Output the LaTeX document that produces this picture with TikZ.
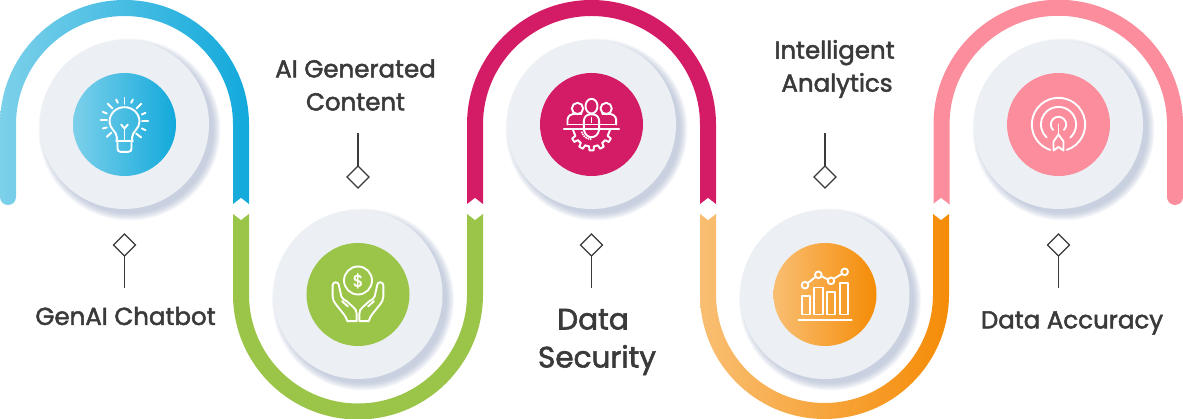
\documentclass[tikz,border=0pt]{standalone}
\usepackage{fontspec}
\setmainfont{Poppins}[RawFeature={embolden=2.0}]
\usetikzlibrary{shapes.geometric}
\definecolor{txt}{HTML}{3A3A3A}
\definecolor{disc}{HTML}{ECEFF3}
\definecolor{blueA}{HTML}{7CD0EA}
\definecolor{blueB}{HTML}{12A9DB}
\definecolor{grn}{HTML}{9AC548}
\definecolor{pnk}{HTML}{D41C66}
\definecolor{orgA}{HTML}{F9BE72}
\definecolor{orgB}{HTML}{F58C07}
\definecolor{cor}{HTML}{FB8D9C}
\definecolor{shd}{HTML}{8E9DBD}
\tikzset{
  outerdisc/.style={circle,fill=disc,inner sep=0pt,outer sep=0pt,minimum size=169pt},
  innerdisc/.style={circle,inner sep=0pt,outer sep=0pt,minimum size=103pt},
  marker/.style={diamond,draw=txt,fill=white,line width=1.3pt,inner sep=0pt,outer sep=0pt,minimum width=22pt,minimum height=22pt},
  stem/.style={draw=txt,line width=1.3pt},
  lab/.style={text=txt,font=\fontsize{24.5}{33}\selectfont,align=center,inner sep=0pt},
  biglab/.style={text=txt,font=\fontsize{29.5}{38}\selectfont,align=center,inner sep=0pt},
  ico/.style={draw=white,line width=1.9pt,line cap=round,line join=round},
  notch/.style={fill=white,draw=none},
}
\newcommand{\softshadow}[2]{%
  \foreach \r in {91,90,89,88,87,86,85,84}{
    \fill[shd,opacity=.08] (#1+5,#2-5) circle (\r pt);
  }}
\newcommand{\whitenotch}[1]{%
  \fill[notch] (#1-9,214) -- (#1,221) -- (#1+9,214) -- (#1+9,206) -- (#1,199) -- (#1-9,206) -- cycle;}
\begin{document}
\begin{tikzpicture}[x=1pt,y=1pt]
\useasboundingbox (0,0) rectangle (1183,419);
% ribbon segments
\path[left color=blueA,right color=blueB]
  (0,222) -- (0,294.5) arc[start angle=180,end angle=0,radius=124.5] -- (249,214) -- (233,214) -- (233,294.5)
  arc[start angle=0,end angle=180,radius=108.5] -- (16,222) arc[start angle=0,end angle=-180,radius=8] -- cycle;
\path[fill=grn]
  (233,206) -- (233,124.5) arc[start angle=180,end angle=360,radius=125] -- (483,206) -- (467,206) -- (467,124.5)
  arc[start angle=360,end angle=180,radius=109] -- (249,206) -- cycle;
\path[fill=pnk]
  (467,214) -- (467,294.5) arc[start angle=180,end angle=0,radius=124.5] -- (716,214) -- (700,214) -- (700,294.5)
  arc[start angle=0,end angle=180,radius=108.5] -- (483,214) -- cycle;
\path[left color=orgA,right color=orgB]
  (700,206) -- (700,124.5) arc[start angle=180,end angle=360,radius=124.5] -- (949,206) -- (933,206) -- (933,124.5)
  arc[start angle=360,end angle=180,radius=108.5] -- (716,206) -- cycle;
\path[fill=cor]
  (933.5,214) -- (933.5,294.5) arc[start angle=180,end angle=0,radius=124.75] -- (1183,222)
  arc[start angle=0,end angle=-180,radius=8] -- (1167,294.5) arc[start angle=0,end angle=180,radius=108.75] -- (949.5,214) -- cycle;
\whitenotch{241}\whitenotch{475}\whitenotch{708}\whitenotch{941}
% shadows
\softshadow{124.5}{294.5}\softshadow{358}{124.5}\softshadow{591.5}{294.5}\softshadow{825}{124.5}\softshadow{1058.5}{294.5}
% discs
\node[outerdisc] (d1) at (124.5,294.5) {};
\node[outerdisc] (d2) at (358,124.5) {};
\node[outerdisc] (d3) at (591.5,294.5) {};
\node[outerdisc] (d4) at (825,124.5) {};
\node[outerdisc] (d5) at (1058.5,294.5) {};
\node[innerdisc,left color=blueA,right color=blueB] (i1) at (d1) {};
\node[innerdisc,fill=grn] (i2) at (d2) {};
\node[innerdisc,fill=pnk] (i3) at (d3) {};
\node[innerdisc,left color=orgA,right color=orgB] (i4) at (d4) {};
\node[innerdisc,fill=cor] (i5) at (d5) {};
% bulb
\begin{scope}[shift={(i1.center)},x=.3333pt,y=-.3333pt,ico]
  \draw (-23,49) -- (-23,38) .. controls (-23,22) and (-45,12) .. (-45,-8)
    .. controls (-45,-34) and (-24,-52) .. (0,-52) .. controls (24,-52) and (45,-34) .. (45,-8)
    .. controls (45,12) and (23,22) .. (23,38) -- (23,49);
  \draw (-25,49) -- (25,49);
  \draw (-21,49) -- (-21,72) .. controls (-21,78) and (-18,82) .. (-12,82) -- (12,82) .. controls (18,82) and (21,78) .. (21,72) -- (21,49);
  \draw (0,49) -- (0,10);
  \draw (-10,0) -- (0,12) -- (10,0);
  \foreach \a/\b/\c/\d in {0/-80/0/-62,-25/-75/-20/-65,25/-75/20/-65,-50/-62/-36/-48,50/-62/36/-48,-65/-38/-53/-33,63/-35/52/-30,-72/-13/-53/-13,71/-11/53/-11,-65/12/-53/9,63/17/52/12,-53/37/-40/25,50/39/35/27}
    \draw (\a,\b) -- (\c,\d);
\end{scope}
% hands
\begin{scope}[shift={(i2.center)},x=.3333pt,y=-.3333pt,ico]
  \draw (0,-42) circle[radius=42];
  \node[text=white,font=\fontsize{17}{17}\selectfont,inner sep=0pt] (dollar) at (0,-41) {\$};
  \foreach \s in {1,-1}{
    \begin{scope}[xscale=\s]
      \draw (-4,80) -- (-32,80) .. controls (-36,70) and (-38,64) .. (-42,60) -- (-66,30)
        .. controls (-72,22) and (-76,16) .. (-76,6) -- (-76,-28) .. controls (-76,-38) and (-60,-40) .. (-58,-30)
        -- (-50,6) .. controls (-48,14) and (-40,16) .. (-34,20) -- (-14,38) .. controls (-8,44) and (-4,48) .. (-4,58) -- cycle;
      \draw (-48,20) -- (-30,36);
    \end{scope}}
\end{scope}
% team
\begin{scope}[shift={(i3.center)},x=.3333pt,y=-.3333pt,ico]
  \draw (-83,13) -- (83,13);
  \draw (-42,-48) circle[radius=17];
  \draw (0,-55) ellipse[x radius=18,y radius=22];
  \draw (44,-48) circle[radius=17];
  \draw (-72,0) -- (-72,-14) .. controls (-72,-26) and (-60,-32) .. (-50,-32) -- (-30,-32);
  \draw (74,0) -- (74,-14) .. controls (74,-26) and (62,-32) .. (52,-32) -- (32,-32);
  \draw (-72,0) -- (74,0);
  \draw (-23,13) -- (-23,-10) .. controls (-23,-22) and (-14,-30) .. (-6,-30) -- (6,-30) .. controls (14,-30) and (23,-22) .. (23,-10) -- (23,13);
  \draw (0,-20) -- (0,-6);
  \draw (-23,15) .. controls (-20,32) and (-10,38) .. (0,38) .. controls (10,38) and (20,32) .. (23,15);
  \begin{scope}[shift={(0,13)}]
    \foreach \t in {32,61,90,119,148}{
      \draw (\t-14.5:53) -- (\t-8:53) -- (\t-5.5:65) -- (\t+5.5:65) -- (\t+8:53) -- (\t+14.5:53);
    }
    \draw (18:53) -- (2:56);
    \draw (162:53) -- (178:56);
    \foreach \t in {95,108,121,134,147,160}{ \fill[white,draw=none] (\t:31) circle[radius=3.4]; }
  \end{scope}
\end{scope}
% chart
\begin{scope}[shift={(i4.center)},x=.3333pt,y=-.3333pt,ico]
  \draw (-80,76) -- (80,76);
  \draw (-70,60) rectangle (-45,4);
  \draw (-32,60) rectangle (-7,-21);
  \draw (7,60) rectangle (31,-7);
  \draw (46,60) rectangle (70,-35);
  \draw (-60,-28) circle[radius=10];
  \draw (-20,-59) circle[radius=10];
  \draw (18,-41) circle[radius=10];
  \draw (59,-68) circle[radius=10];
  \draw (-52,-34) -- (-28,-53);
  \draw (-11,-55) -- (9,-45);
  \draw (26,-47) -- (51,-62);
\end{scope}
% target
\begin{scope}[shift={(i5.center)},ico]
  \draw (-72:26.7) arc[start angle=-72,end angle=252,radius=26.7];
  \draw (-48:17.6) arc[start angle=-48,end angle=228,radius=17.6];
  \draw (-45:7.7) arc[start angle=-45,end angle=225,radius=7.7];
  \draw (0,0) -- (0,-11);
  \draw (-5,-17) -- (0,-10) -- (5,-17) -- (5,-26) -- (0,-22.5) -- (-5,-26) -- cycle;
\end{scope}
% markers and stems
\node[marker] (m1) at (124.5,174) {};
\coordinate (e1) at (124.5,131);
\draw[stem] (m1.south) -- (e1);
\node[marker] (m2) at (358,242) {};
\coordinate (e2) at (358,286);
\draw[stem] (m2.north) -- (e2);
\node[marker] (m3) at (591.5,174) {};
\coordinate (e3) at (591.5,131);
\draw[stem] (m3.south) -- (e3);
\node[marker] (m4) at (825,242) {};
\coordinate (e4) at (825,286);
\draw[stem] (m4.north) -- (e4);
\node[marker] (m5) at (1058.5,174) {};
\coordinate (e5) at (1058.5,131);
\draw[stem] (m5.south) -- (e5);
% labels
\node[lab] (t1) at (125.5,103) {GenAI Chatbot};
\node[lab] (t2) at (355.5,334) {AI Generated\\Content};
\node[biglab] (t3) at (597,77) {Data\hspace*{8pt}\\Security};
\node[lab] (t4) at (834.5,350) {Intelligent\\\hspace*{5pt}Analytics};
\node[lab] (t5) at (1072,96) {Data Accuracy};
\end{tikzpicture}
\end{document}
